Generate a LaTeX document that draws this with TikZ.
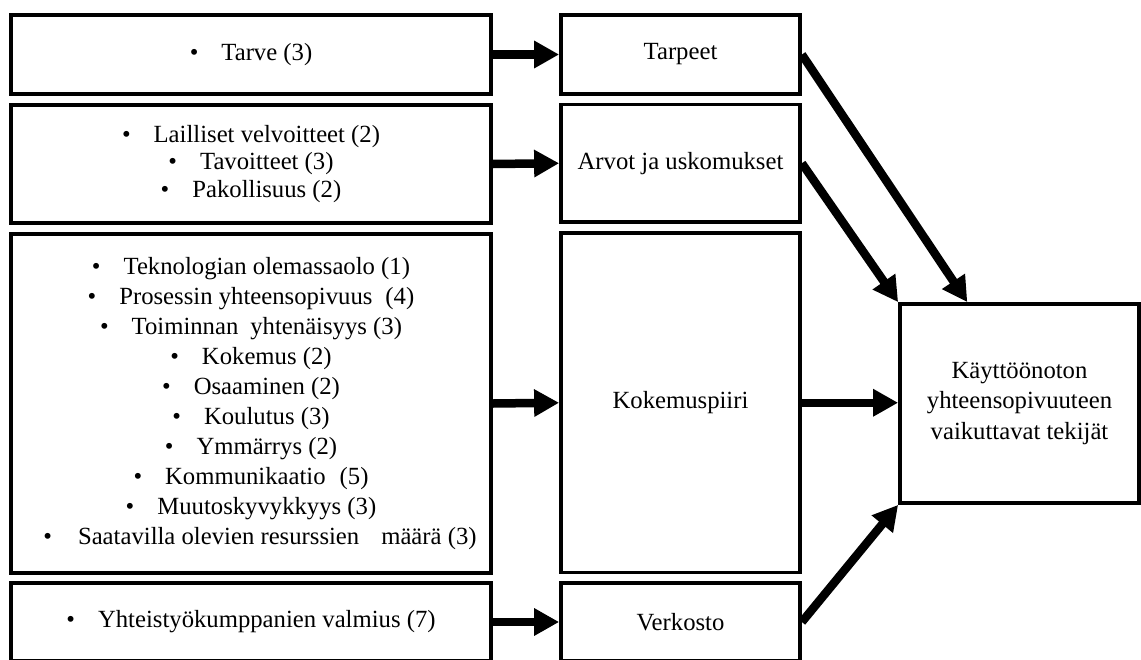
\documentclass[tikz,border=0pt]{standalone}
\usepackage{fontspec}
\setmainfont{Liberation Serif}
\usetikzlibrary{arrows.meta,calc}
% one bulleted entry, bullet followed by a tab-like gap
\newcommand\bulletline[1]{\textbullet\hspace{23pt}#1}
\begin{document}
\begin{tikzpicture}[x=1pt,y=-1pt,
  box/.style={draw=black,line width=3.75pt,inner sep=0pt,align=center,
    font=\fontsize{24.7}{30}\selectfont},
  leftbox/.style={box,minimum width=480pt},
  midbox/.style={box,minimum width=239pt},
  flow/.style={line width=8.5pt,-{Triangle[length=25pt,width=26pt]}}]

\useasboundingbox (0,0) rectangle (1141,659);
\fill[white] (0,0) rectangle (1141,659);
\clip (0,0) rectangle (1141,659);

% factor lists
\node[leftbox,minimum height=79pt] (l1) at (251,54.5)
  {\bulletline{Tarve (3)}};
\node[leftbox,minimum height=117.5pt,font=\fontsize{24.7}{27.5}\selectfont] (l2) at (251,164)
  {\bulletline{Lailliset velvoitteet (2)}\\
   \bulletline{Tavoitteet (3)}\\
   \bulletline{Pakollisuus (2)}};
\node[leftbox,minimum height=339.5pt] (l3) at (251,403.5)
  {\bulletline{Teknologian olemassaolo (1)}\\
   \bulletline{Prosessin yhteensopivuus\hspace{13pt}(4)}\\
   \bulletline{Toiminnan\hspace{12pt}yhtenäisyys (3)}\\
   \bulletline{Kokemus (2)}\\
   \bulletline{Osaaminen (2)}\\
   \bulletline{Koulutus (3)}\\
   \bulletline{Ymmärrys (2)}\\
   \bulletline{Kommunikaatio\hspace{14pt}(5)}\\
   \bulletline{Muutoskyvykkyys (3)}\\
   \hspace{18pt}\textbullet\hspace{26pt}Saatavilla olevien resurssien\hspace{22pt}määrä (3)};
\node[leftbox,minimum height=78pt] (l4) at (251,622)
  {\bulletline{Yhteistyökumppanien valmius (7)}};

% categories
\node[midbox,minimum height=79pt] (m1) at (680.5,54.5) {Tarpeet};
\node[midbox,minimum height=117.5pt] (m2) at (680.5,163.25) {Arvot ja uskomukset};
\node[midbox,minimum height=339.5pt] (m3) at (680.5,402.75) {Kokemuspiiri};
\node[midbox,minimum height=78pt] (m4) at (680.5,622) {Verkosto};

% result
\node[box,minimum width=239pt,minimum height=199pt,font=\fontsize{24.7}{30.5}\selectfont] (r) at (1019.5,403.5)
  {Käyttöönoton\\ yhteensopivuuteen\\ vaikuttavat tekijät};

% connectors
\draw[flow] (l1.east) -- (m1.west);
\draw[flow] (l2.east) -- (m2.west);
\draw[flow] (l3.east) -- (m3.west);
\draw[flow] (l4.east) -- (m4.west);

\draw[flow] (m1.east) -- ($(r.north west)!0.285!(r.north east)$);
\draw[flow] (m2.east) -- (r.north west);
\draw[flow] (m3.east) -- (m3.east -| r.west);
\draw[flow] (m4.east) -- (r.south west);
\end{tikzpicture}
\end{document}
